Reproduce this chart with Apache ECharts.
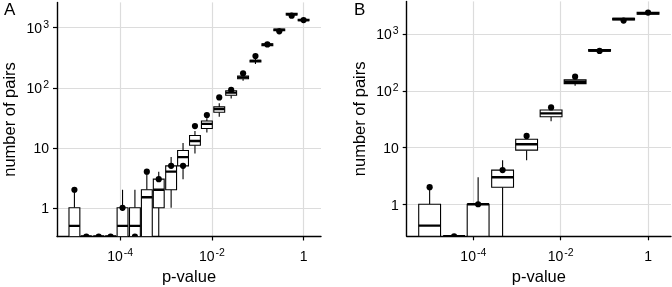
<!DOCTYPE html>
<html>
<head>
<meta charset="utf-8">
<script src="https://cdn.jsdelivr.net/npm/echarts@6/dist/echarts.min.js"></script>
<style>
html, body { margin: 0; padding: 0; background: #fff; }
#chart { width: 672px; height: 287px; }
</style>
</head>
<body>
<div id="chart"></div>
<script>
// panel A: p-value bin centres (log10 p)
var binsA = [-5.00, -4.74, -4.47, -4.21, -3.95, -3.68, -3.42, -3.16, -2.89, -2.63,
             -2.37, -2.11, -1.84, -1.58, -1.32, -1.05, -0.79, -0.53, -0.26, 0.00];
// box statistics per bin (number of pairs)
var loA  = [0, 0, 0, 0, 0, 0, 0, 0, 1, 3, 8, 18, 33, 66, 131, 248, 477, 826, 1490, 1245];
var q1A  = [0, 0, 0, 0, 0, 0, 0, 1, 2, 5, 11, 21, 39, 75, 141, 270, 501, 891, 1629, 1309];
var medA = [0.5, 0, 0, 0, 0.5, 0.5, 1.5, 2, 4, 7, 13, 25, 44, 83, 149, 280, 520, 920, 1680, 1340];
var q3A  = [1, 0, 0, 0, 1, 1, 2, 3, 5, 9, 16, 28, 48, 89, 157, 288, 541, 951, 1738, 1380];
var hiA  = [2, 0, 0, 0, 2, 2, 4, 4, 7, 12, 19, 31, 55, 98, 172, 313, 562, 975, 1758, 1435];
// observed counts
var obsA = [2, 0, 0, 0, 1, 0, 4, 3, 5, 5, 23, 35, 69, 92, 174, 338, 528, 871, 1585, 1343];

// panel B
var binsB = [-5.00, -4.44, -3.89, -3.33, -2.78, -2.22, -1.67, -1.11, -0.56, 0.00];
var loB  = [0, 0, 0, 0, 6, 29, 123, 490, 1750, 2200];
var q1B  = [0, 0, 0, 2, 9, 35, 134, 499, 1780, 2244];
var medB = [0.42, 0, 1, 3, 11.4, 40, 145, 515, 1850, 2330];
var q3B  = [1, 0, 1, 4, 14, 46, 156, 533, 1905, 2432];
var hiB  = [2, 0, 3, 6, 18, 51, 158, 545, 1930, 2450];
var obsB = [2, 0, 1, 4, 16, 51, 178, 505, 1730, 2400];

var xTicks = [-4, -2, 0];
var yTicks = [0, 1, 2, 3];

// axis ranges (log10 units)
var xRangeA = [-5.38, 0.38], yRangeA = [-0.478, 3.422];
var xRangeB = [-5.525, 0.525], yRangeB = [-0.565, 3.577];
var boxWA = 0.237, boxWB = 0.5;

function lg(v, floor) { return Math.max(Math.log10(v), floor); }

function boxRows(bins, lo, q1, med, q3, hi, floor) {
    return bins.map(function (b, i) {
        return [b, lg(lo[i], floor), lg(q1[i], floor), lg(med[i], floor), lg(q3[i], floor), lg(hi[i], floor)];
    });
}
function pointRows(bins, obs, floor) {
    return bins.map(function (b, i) { return [b, lg(obs[i], floor)]; });
}

function boxRenderer(bw) {
    return function (params, api) {
        var x = api.value(0);
        var lo = api.coord([x, api.value(1)]);
        var q1 = api.coord([x, api.value(2)]);
        var md = api.coord([x, api.value(3)]);
        var q3 = api.coord([x, api.value(4)]);
        var hi = api.coord([x, api.value(5)]);
        var w = api.size([bw, 0])[0];
        var ln = { stroke: '#000', lineWidth: 1.1 };
        return {
            type: 'group',
            children: [
                { type: 'line', shape: { x1: lo[0], y1: lo[1], x2: q1[0], y2: q1[1] }, style: ln },
                { type: 'line', shape: { x1: q3[0], y1: q3[1], x2: hi[0], y2: hi[1] }, style: ln },
                { type: 'rect', shape: { x: q3[0] - w / 2, y: q3[1], width: w, height: q1[1] - q3[1] },
                  style: { fill: '#fff', stroke: '#000', lineWidth: 1.1 } },
                { type: 'line', shape: { x1: md[0] - w / 2, y1: md[1], x2: md[0] + w / 2, y2: md[1] },
                  style: { stroke: '#000', lineWidth: 2.4 } }
            ]
        };
    };
}
function pointRenderer(params, api) {
    var c = api.coord([api.value(0), api.value(1)]);
    return { type: 'circle', shape: { cx: c[0], cy: c[1], r: 3.1 }, style: { fill: '#000' } };
}

var rich = {
    b: { fontSize: 14, color: '#000', fontFamily: 'Liberation Sans', verticalAlign: 'bottom', padding: [3, 0, 0, 0] },
    s: { fontSize: 10.5, color: '#000', fontFamily: 'Liberation Sans', verticalAlign: 'top', padding: [0, 0, 0, 1] }
};
function fmtPow(v) {
    if (v === 0) return '{b|1}';
    if (v === 1) return '{b|10}';
    return '{b|10}{s|' + v + '}';
}

function xAxisFor(idx, range) {
    return {
        type: 'value', gridIndex: idx, min: range[0], max: range[1],
        name: 'p-value', nameLocation: 'middle', nameGap: 28,
        nameTextStyle: { fontSize: 16.5, color: '#000', fontFamily: 'Liberation Sans' },
        axisLine: { show: true, onZero: false, lineStyle: { color: '#000', width: 1.4 } },
        axisTick: { show: true, length: 4, customValues: xTicks, lineStyle: { color: '#000', width: 1.2 } },
        axisLabel: { customValues: xTicks, formatter: fmtPow, margin: 11, fontSize: 14, rich: rich },
        splitLine: { show: true, lineStyle: { color: '#dcdcdc', width: 1.2 } }
    };
}
function yAxisFor(idx, range) {
    return {
        type: 'value', gridIndex: idx, min: range[0], max: range[1],
        name: 'number of pairs', nameLocation: 'middle', nameGap: 38,
        nameTextStyle: { fontSize: 16.5, color: '#000', fontFamily: 'Liberation Sans' },
        axisLine: { show: true, onZero: false, lineStyle: { color: '#000', width: 1.4 } },
        axisTick: { show: true, length: 4, customValues: yTicks, lineStyle: { color: '#000', width: 1.2 } },
        axisLabel: { customValues: yTicks, formatter: fmtPow, margin: 8, fontSize: 14, rich: rich },
        splitLine: { show: true, lineStyle: { color: '#dcdcdc', width: 1.2 } }
    };
}

var option = {
    animation: false,
    backgroundColor: '#fff',
    grid: [
        { left: 57, top: 2.4, width: 264, height: 234.1, outerBoundsMode: 'none' },
        { left: 406.7, top: 1.4, width: 264.3, height: 234.9, outerBoundsMode: 'none' }
    ],
    xAxis: [xAxisFor(0, xRangeA), xAxisFor(1, xRangeB)],
    yAxis: [yAxisFor(0, yRangeA), yAxisFor(1, yRangeB)],
    graphic: [
        { type: 'text', left: 4, top: 2, style: { text: 'A', fontSize: 17, fill: '#000', fontFamily: 'Liberation Sans' } },
        { type: 'text', left: 354, top: 2, style: { text: 'B', fontSize: 17, fill: '#000', fontFamily: 'Liberation Sans' } }
    ],
    series: [
        { type: 'custom', xAxisIndex: 0, yAxisIndex: 0, clip: true, renderItem: boxRenderer(boxWA),
          data: boxRows(binsA, loA, q1A, medA, q3A, hiA, yRangeA[0]) },
        { type: 'custom', xAxisIndex: 0, yAxisIndex: 0, clip: true, renderItem: pointRenderer,
          data: pointRows(binsA, obsA, yRangeA[0]) },
        { type: 'custom', xAxisIndex: 1, yAxisIndex: 1, clip: true, renderItem: boxRenderer(boxWB),
          data: boxRows(binsB, loB, q1B, medB, q3B, hiB, yRangeB[0]) },
        { type: 'custom', xAxisIndex: 1, yAxisIndex: 1, clip: true, renderItem: pointRenderer,
          data: pointRows(binsB, obsB, yRangeB[0]) }
    ]
};

var chart = echarts.init(document.getElementById('chart'));
chart.setOption(option);
</script>
</body>
</html>
